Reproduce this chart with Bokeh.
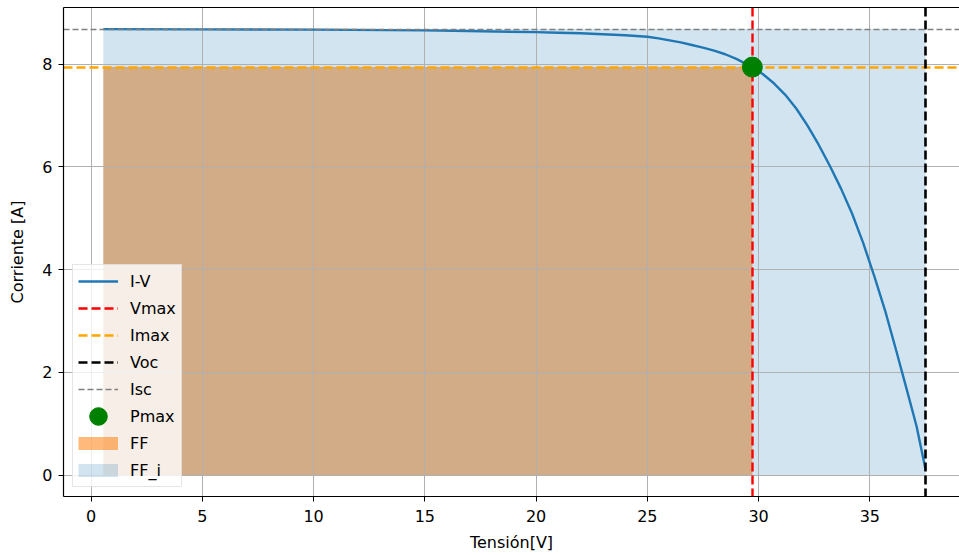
import numpy as np
from bokeh.plotting import figure
from bokeh.models import Range1d, Legend, LegendItem, LinearAxis, FixedTicker, SingleIntervalTicker
from bokeh.embed import file_html
from bokeh.resources import INLINE

# I-V curve
V = [0.55, 5.0, 10.0, 15.0, 20.0, 21.0, 22.0, 23.0, 24.0, 25.0, 25.5, 26.0, 26.5, 27.0,
     27.5, 28.0, 28.5, 29.0, 29.72, 30.2, 30.7, 31.2, 31.7, 32.2, 32.7, 33.2, 33.7,
     34.2, 34.7, 35.2, 35.7, 36.2, 36.7, 37.1, 37.51]
I = [8.68, 8.675, 8.67, 8.655, 8.62, 8.61, 8.60, 8.58, 8.56, 8.53, 8.50, 8.46, 8.42, 8.37,
     8.32, 8.26, 8.19, 8.10, 7.94, 7.80, 7.62, 7.40, 7.13, 6.80, 6.43, 6.02, 5.58,
     5.09, 4.52, 3.87, 3.18, 2.40, 1.60, 0.95, 0.10]

Vmax = 29.72
Imax = 7.94
Voc = 37.51
Isc = 8.68

labels = ["I-V", "Vmax", "Imax", "Voc", "Isc", "Pmax", "FF", "FF_i"]
FONT = "DejaVu Sans"

p = figure(width=959, height=555, x_range=Range1d(-1.24, 39.03), y_range=Range1d(-0.417, 9.10),
           output_backend="svg", toolbar_location=None,
           min_border_left=63, min_border_right=0, min_border_top=7, min_border_bottom=59)
p.outline_line_color = None
p.background_fill_color = "white"

# filled areas (drawn below the grid)
p.quad(left=[V[0]], right=[Vmax], bottom=[0], top=[Imax], fill_color="#ff7f0e",
       fill_alpha=0.55, line_color=None, level="image")
p.quad(left=[V[0]], right=[Voc], bottom=[0], top=[Isc], fill_color="#1f77b4",
       fill_alpha=0.2, line_color=None, level="image")

# lines
r_iv = p.line(V, I, line_color="#1f77b4", line_width=2.4, line_join="round")
p.vspan(x=[Vmax], line_color="red", line_width=2.4, line_dash="9 4")
p.hspan(y=[Imax], line_color="orange", line_width=2.4, line_dash="9 4")
p.vspan(x=[Voc], line_color="black", line_width=2.6, line_dash="9 4")
p.hspan(y=[Isc], line_color="gray", line_width=1.5, line_dash="6 3")
r_pm = p.ellipse(x=[Vmax], y=[Imax], width=20, height=20, width_units="screen",
                 height_units="screen", fill_color="green", line_color="green")

# legend proxies
nan = [np.nan]
d_vmax = p.line(nan, nan, line_color="red", line_width=2.4, line_dash="9 4")
d_imax = p.line(nan, nan, line_color="orange", line_width=2.4, line_dash="9 4")
d_voc = p.line(nan, nan, line_color="black", line_width=2.4, line_dash="9 4")
d_isc = p.line(nan, nan, line_color="gray", line_width=1.6, line_dash="6 3")
d_ff = p.line(nan, nan, line_color="#ff7f0e", line_alpha=0.55, line_width=13, line_cap="butt")
d_ffi = p.line(nan, nan, line_color="#1f77b4", line_alpha=0.2, line_width=13, line_cap="butt")

items = [LegendItem(label=l, renderers=[r]) for l, r in
         zip(labels, [r_iv, d_vmax, d_imax, d_voc, d_isc, r_pm, d_ff, d_ffi])]
legend = Legend(items=items, location="bottom_left", margin=9, padding=5, spacing=5,
                glyph_width=40, glyph_height=22, label_height=22, label_standoff=12,
                label_text_font_size="16px", label_text_font=FONT, label_text_color="black",
                border_line_color="#cccccc", border_line_width=1,
                background_fill_color="white", background_fill_alpha=0.8)
p.add_layout(legend)

# grid
p.grid.grid_line_color = "#b0b0b0"
p.grid.grid_line_width = 1

# axes
p.xaxis.ticker = SingleIntervalTicker(interval=5)
p.yaxis.ticker = SingleIntervalTicker(interval=2)
for ax in (p.xaxis[0], p.yaxis[0]):
    ax.minor_tick_line_color = None
    ax.major_tick_out = 5
    ax.major_tick_in = 0
    ax.major_tick_line_color = "black"
    ax.axis_line_color = "black"
    ax.axis_line_width = 1.2
    ax.major_label_text_font = FONT
    ax.major_label_text_font_size = "16px"
    ax.major_label_text_color = "black"
    ax.axis_label_text_font = FONT
    ax.axis_label_text_font_size = "16px"
    ax.axis_label_text_font_style = "normal"
    ax.axis_label_text_color = "black"
p.xaxis.axis_label = "Tensión[V]"
p.yaxis.axis_label = "Corriente [A]"
p.xaxis.major_label_standoff = 8
p.xaxis.axis_label_standoff = 8
p.yaxis.major_label_standoff = 6
p.yaxis.axis_label_standoff = 12

top = LinearAxis(ticker=FixedTicker(ticks=[]), major_tick_out=0, major_tick_in=0,
                 minor_tick_out=0, minor_tick_in=0, major_label_standoff=0,
                 axis_line_color="black", axis_line_width=1.2,
                 major_label_text_font_size="0px")
p.add_layout(top, "above")

open("out.html", "w").write(file_html(p, INLINE))
